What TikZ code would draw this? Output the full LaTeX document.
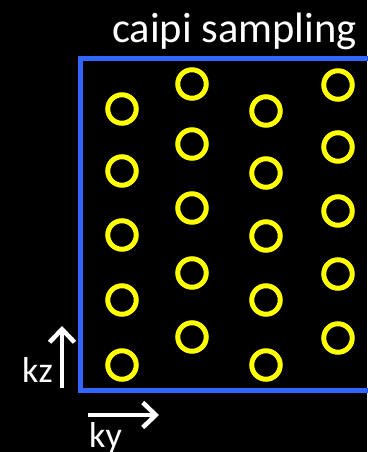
\documentclass[tikz,border=0pt]{standalone}
\usepackage{fontspec}
\setmainfont{Carlito}
\usetikzlibrary{arrows.meta}
\definecolor{frameblue}{RGB}{51,102,255}
\definecolor{sampyellow}{RGB}{255,255,0}
\tikzset{
  samp/.style={circle, draw=sampyellow, line width=5pt, minimum size=28.5pt, inner sep=0pt},
  axisarrow/.style={draw=white, line width=4.5pt, -{Straight Barb[length=13pt, width=25pt, line width=4.5pt]}},
  lbl/.style={text=white, inner sep=0pt, font=\fontsize{36}{40}\selectfont}
}
\begin{document}
\begin{tikzpicture}[x=1pt, y=-1pt]
\fill[black] (0,0) rectangle (367,452);
\useasboundingbox (0,0) rectangle (367,452);
% frame
\draw[frameblue, line width=5pt] (375,58.5) -- (80.5,58.5) -- (80.5,390) -- (375,390);
% title
\node[lbl, anchor=base west, font=\fontsize{42.5}{46}\selectfont] (title) at (112,43) {caipi sampling};
% samples column 1
\node[samp] (a1) at (122,109) {};
\node[samp] (a2) at (122,171) {};
\node[samp] (a3) at (122,235) {};
\node[samp] (a4) at (122,300) {};
\node[samp] (a5) at (122,365) {};
% column 2
\node[samp] (b1) at (192,84) {};
\node[samp] (b2) at (192,144) {};
\node[samp] (b3) at (192,208) {};
\node[samp] (b4) at (192,273) {};
\node[samp] (b5) at (192,337) {};
% column 3
\node[samp] (c1) at (266,111) {};
\node[samp] (c2) at (266,173) {};
\node[samp] (c3) at (266,236) {};
\node[samp] (c4) at (266,300) {};
\node[samp] (c5) at (266,365) {};
% column 4
\node[samp] (d1) at (338,85) {};
\node[samp] (d2) at (338,147) {};
\node[samp] (d3) at (338,211) {};
\node[samp] (d4) at (338,274) {};
\node[samp] (d5) at (338,338) {};
% axes
\coordinate (kzs) at (62,388);
\coordinate (kze) at (62,326);
\coordinate (kys) at (88,415);
\coordinate (kye) at (159,415);
\draw[axisarrow] (kzs) -- (kze);
\draw[axisarrow] (kys) -- (kye);
\node[lbl, anchor=base west] (kz) at (22,382) {kz};
\node[lbl, anchor=base west] (ky) at (89,447) {ky};
\end{tikzpicture}
\end{document}
